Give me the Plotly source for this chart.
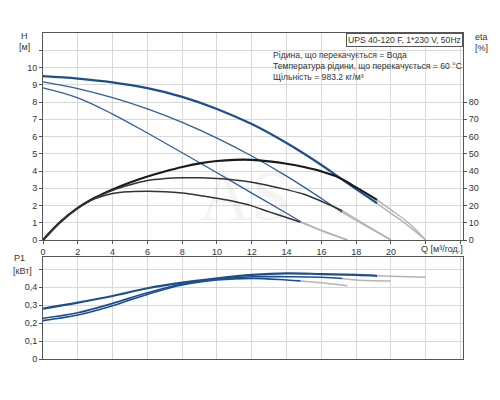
"""Pump performance chart (UPS 40-120 F): Q-H, efficiency and P1 curves for three speeds."""

import plotly.graph_objects as go

# Q-H curves, operating part (blue) and extension (light grey)
Q_H3 = [0, 2, 4, 6, 8, 10, 12, 14, 16, 17, 18, 19.2]
H3 = [9.5, 9.36, 9.14, 8.8, 8.3, 7.6, 6.72, 5.62, 4.35, 3.65, 2.95, 2.13]
Q_H3_EXT = [19.2, 20, 21, 22]
H3_EXT = [2.13, 1.55, 0.82, 0]

Q_H2 = [0, 2, 4, 6, 8, 10, 12, 14, 16, 17.2]
H2 = [9.17, 8.78, 8.25, 7.6, 6.82, 5.91, 4.87, 3.7, 2.41, 1.6]
Q_H2_EXT = [17.2, 18.5, 20]
H2_EXT = [1.6, 0.85, 0]

Q_H1 = [0, 2, 4, 6, 8, 10, 12, 14, 14.8]
H1 = [8.82, 8.24, 7.3, 6.2, 5.06, 3.9, 2.72, 1.55, 1.07]
Q_H1_EXT = [14.8, 16, 17.5]
H1_EXT = [1.07, 0.55, 0]

# efficiency curves (%)
Q_E3 = [0, 1, 2, 3, 4, 5, 6, 7, 8, 9, 10, 11, 12, 13, 14, 15, 16, 17, 18, 19.2]
E3 = [0, 10.5, 18.6, 24.6, 29.3, 33.3, 36.8, 39.7, 42.3, 44.4, 45.8, 46.5, 46.5,
      45.6, 44.2, 42.3, 39.8, 36.3, 30.5, 23.3]
Q_E3_EXT = [19.2, 20, 21, 22]
E3_EXT = [23.3, 17.5, 10, 0]

Q_E2 = [0, 1, 2, 3, 4, 5, 6, 7, 8, 9, 10, 11, 12, 13, 14, 15, 16, 17.2]
E2 = [0, 10.5, 18.6, 24.4, 28.8, 32, 34.5, 35.6, 36.1, 36.1, 35.6, 34.8, 33.5,
      31.5, 29.2, 26.5, 22.5, 17]
Q_E2_EXT = [17.2, 18.5, 20]
E2_EXT = [17, 9, 0]

Q_E1 = [0, 1, 2, 3, 4, 5, 6, 7, 8, 9, 10, 11, 12, 13, 14, 14.8]
E1 = [0, 10.4, 18.4, 24, 27, 28, 28.2, 28, 27.2, 25.8, 24.2, 22.3, 19.8, 16.3, 13, 10.2]
Q_E1_EXT = [14.8, 16, 17.5]
E1_EXT = [10.2, 5.5, 0]

# input power P1 (kW)
Q_P3 = [0, 2, 4, 6, 8, 10, 12, 14, 16, 18, 19.2]
P3 = [0.28, 0.313, 0.35, 0.393, 0.424, 0.448, 0.467, 0.476, 0.472, 0.467, 0.462]
Q_P3_EXT = [19.2, 20, 22]
P3_EXT = [0.462, 0.46, 0.454]

Q_P2 = [0, 2, 4, 6, 8, 10, 12, 14, 16, 17.2]
P2 = [0.226, 0.257, 0.309, 0.368, 0.417, 0.443, 0.457, 0.457, 0.454, 0.447]
Q_P2_EXT = [17.2, 18, 20]
P2_EXT = [0.447, 0.439, 0.433]

Q_P1 = [0, 2, 4, 6, 8, 10, 12, 14, 14.8]
P1 = [0.213, 0.244, 0.296, 0.359, 0.411, 0.439, 0.448, 0.439, 0.434]
Q_P1_EXT = [14.8, 16, 17.5]
P1_EXT = [0.434, 0.424, 0.407]

X_TICKS = list(range(0, 25, 2))
X_LABELS = [str(v) for v in range(0, 21, 2)] + ["", ""]
H_TICKS = list(range(0, 12))
H_LABELS = [str(v) for v in range(0, 11)] + [""]
ETA_TICKS = list(range(0, 81, 10))
P_TICKS = [0, 0.1, 0.2, 0.3, 0.4, 0.5]
P_LABELS = ["0", "0,1", "0,2", "0,3", "0,4", ""]

BLUE = "#1d4f8e"
BLACK = "#1a1a1a"
EXT = "#b4b4b4"
GRID = "#d8d8d8"
AXIS = "#555555"
FONT = "Liberation Sans, Arial, sans-serif"

fig = go.Figure()


def line(x, y, color, width, xaxis="x", yaxis="y"):
    fig.add_trace(go.Scatter(x=x, y=y, mode="lines", line=dict(color=color, width=width, shape="spline"),
                             xaxis=xaxis, yaxis=yaxis, showlegend=False, hoverinfo="skip"))


# extensions first so the operating parts sit on top
for qx, yx in [(Q_H3_EXT, H3_EXT), (Q_H2_EXT, H2_EXT), (Q_H1_EXT, H1_EXT)]:
    line(qx, yx, EXT, 1.5)
for qx, yx in [(Q_E3_EXT, E3_EXT), (Q_E2_EXT, E2_EXT), (Q_E1_EXT, E1_EXT)]:
    line(qx, yx, EXT, 1.5, yaxis="y2")
for qx, yx in [(Q_P3_EXT, P3_EXT), (Q_P2_EXT, P2_EXT), (Q_P1_EXT, P1_EXT)]:
    line(qx, yx, EXT, 1.5, xaxis="x2", yaxis="y3")

line(Q_E3, E3, BLACK, 2.2, yaxis="y2")
line(Q_E2, E2, "#333333", 1.5, yaxis="y2")
line(Q_E1, E1, "#333333", 1.5, yaxis="y2")

line(Q_H3, H3, BLUE, 2.2)
line(Q_H2, H2, "#2f5f9a", 1.3)
line(Q_H1, H1, "#2f5f9a", 1.3)

line(Q_P3, P3, BLUE, 2.2, xaxis="x2", yaxis="y3")
line(Q_P2, P2, BLUE, 1.6, xaxis="x2", yaxis="y3")
line(Q_P1, P1, BLUE, 1.6, xaxis="x2", yaxis="y3")

axis_common = dict(showline=True, linecolor=AXIS, linewidth=1, gridcolor=GRID, gridwidth=1,
                   zeroline=False, ticks="outside", ticklen=3, tickcolor=AXIS,
                   tickfont=dict(size=9, color="#333333", family=FONT))

# the page body adds an 8px offset, so margins are trimmed on the left/top
fig.update_layout(
    width=500, height=400,
    paper_bgcolor="white", plot_bgcolor="white",
    margin=dict(l=35, r=45, t=25, b=49),
    font=dict(family=FONT, size=9, color="#333333"),
    xaxis=dict(anchor="y", range=[0, 24.14], tickmode="array", tickvals=X_TICKS, ticktext=X_LABELS,
               mirror=True, **axis_common),
    yaxis=dict(domain=[0.365, 1], range=[0, 12], tickmode="array", tickvals=H_TICKS, ticktext=H_LABELS,
               mirror=True, **axis_common),
    yaxis2=dict(overlaying="y", side="right", anchor="x", range=[0, 120], tickmode="array",
                tickvals=ETA_TICKS, showgrid=False, **axis_common),
    xaxis2=dict(anchor="y3", range=[0, 24.14], tickmode="array", tickvals=X_TICKS,
                showticklabels=False, mirror=True,
                **{**axis_common, "ticks": ""}),
    yaxis3=dict(domain=[0, 0.313], anchor="x2", range=[0, 0.567], tickmode="array", tickvals=P_TICKS,
                ticktext=P_LABELS, mirror=True, **axis_common),
)


def note(text, x, y, xanchor="center", yanchor="middle", size=9, **kw):
    fig.add_annotation(text=text, x=x, y=y, xref="paper", yref="paper", showarrow=False,
                       xanchor=xanchor, yanchor=yanchor, align="left",
                       font=kw.pop("font", dict(size=size, family=FONT, color="#333333")), **kw)


# faint watermark
note("AS", 0.48, 0.5, font=dict(size=72, color="rgba(0,0,0,0.045)", family="Liberation Serif, serif"))

note("H", -0.043, 0.991)
note("[м]", -0.043, 0.957)
note("eta", 1.045, 0.988)
note("[%]", 1.045, 0.954)
note("P1", -0.057, 0.31)
note("[кВт]", -0.05, 0.27)
note("Q [м³/год.]", 0.95, 0.337)
note("UPS 40-120 F, 1*230 V, 50Hz", 1, 1, xanchor="right", yanchor="top", size=8.6,
     bordercolor=AXIS, borderwidth=1, borderpad=1, bgcolor="white")
note("Рідина, що перекачується = Вода<br>Температура рідини, що перекачується = 60 °C"
     "<br>Щільність = 983.2 кг/м³", 0.543, 0.955, xanchor="left", yanchor="top", size=8.6)

fig.write_html("out.html")
